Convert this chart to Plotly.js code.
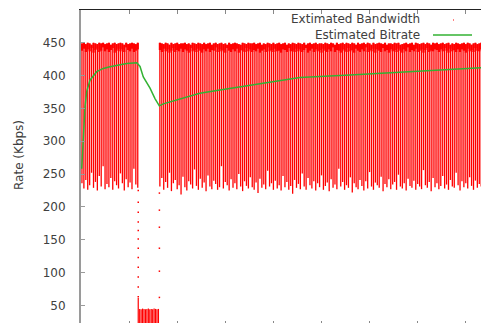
<!DOCTYPE html>
<html>
<head>
<meta charset="utf-8">
<script src="https://cdn.plot.ly/plotly-3.0.1.min.js"></script>
<style>
html,body{margin:0;padding:0;overflow:hidden;background:#fff;width:481px;height:323px;}
#chart{width:562px;height:340px;}
</style>
</head>
<body>
<div id="chart"></div>
<script>
// ---- Estimated Bandwidth (per sample interval: ceiling, dense floor, lowest estimate) ----
const bwSamplePeriod = 4;           // seconds between bandwidth columns
const bwStart1 = 2;                 // first interval (before the outage)
const bwHigh1 = [449,450,448,450,449,447,450,449,448,450,449,450,448,449,450,447,449,450,448,449,450,449,447,450,448,449,450,449,448,450];
const bwDense1 = [438,441,436,440,437,442,435,439,441,436,438,443,437,440,436,439,442,435,438,441,437,440,436,443,439,437,441,436,438,440];
const bwLow1 = [236,228,241,226,233,252,229,238,225,247,231,262,227,235,230,244,226,239,233,228,251,236,225,242,230,237,227,258,234,229];

const bwStart2 = 164;               // interval after the outage
const bwHigh2 = [
450,449,448,450,449,447,450,448,449,450,448,449,
449,450,448,449,447,450,449,448,450,449,448,450,
448,449,450,447,449,450,448,449,450,448,449,447,
450,448,449,450,449,448,447,450,449,448,450,449,
449,450,448,449,450,447,449,448,450,449,448,450,
448,449,450,448,449,450,447,449,448,450,449,448,
450,449,448,450,447,449,450,448,449,450,448,449,
449,448,450,449,448,450,449,447,450,448,449,450,
448,450,449,448,450,449,447,450,448,449,450,448,
450,449,447,450,448,449,450,449,448,450,447,449,
449,448,450,449,450,447,448,449,450,448,449,450,
447,450,449,448,449,450,448,450,449,447,450,449,
450,448,449,450,448,449,450,447,449,448,450,449,
448,449,450,448,450,449,447,449,450,448,449,450];
const bwDense2 = [
439,436,441,437,440,435,438,442,436,439,437,441,
436,440,438,435,442,437,439,436,441,438,435,440,
437,441,436,439,438,443,436,440,437,439,435,442,
438,436,440,437,441,435,439,438,436,442,437,440,
436,439,437,441,435,438,440,436,443,437,439,436,
441,437,438,435,440,439,436,442,437,438,436,441,
437,440,436,439,442,435,438,441,436,440,437,439,
435,441,438,436,440,437,443,436,439,438,435,440,
438,436,442,437,439,435,441,438,436,440,437,443,
436,439,437,441,435,440,438,436,442,437,439,435,
440,437,439,436,441,438,435,440,437,443,436,439,
437,441,436,438,440,435,439,442,436,438,437,440,
439,436,440,437,442,438,435,441,437,439,436,440,
436,440,438,435,441,437,439,436,442,438,437,440];
const bwLow2 = [
231,244,226,238,229,252,224,236,241,227,233,219,
246,230,225,239,234,228,257,232,226,243,229,237,
224,248,231,227,240,235,226,230,262,228,238,233,
225,242,229,236,227,250,231,224,239,232,228,245,
230,226,237,221,243,229,234,227,255,231,236,226,
240,228,233,225,247,230,238,226,232,220,241,229,
235,227,251,231,226,244,233,228,239,225,236,230,
248,226,232,237,224,242,229,234,227,258,231,238,
226,233,229,245,222,236,230,227,241,232,225,239,
228,253,231,226,237,233,229,246,224,235,230,242,
227,234,238,226,249,231,228,236,225,243,232,229,
240,226,235,231,227,256,233,229,238,224,244,230,
236,227,232,247,228,234,226,241,231,229,252,233,
225,239,230,236,228,245,232,226,240,229,235,231];

// outage block (low estimates)
const gapTime = [119,122,125,128,131,134,137,140,143,146,149,152,155,158,161];
const gapHigh = [61,44.5,44,45,44.5,44,44.5,45,44,44.5,44,45,44.5,44,44.5];
const gapLow  = [12,10,14,11,13,10,12,15,11,10,13,12,10,14,11];

// isolated estimates around the outage
const dotTime  = [119,119,119,119,119,119,119,119,119,119,119,119,163,163,163,163,163,163];
const dotValue = [225,207,192,177,164,151,137,123,108,93,78,63,221,195,169,137,102,62];

// ---- Estimated Bitrate ----
const brTime  = [1.5,4.8,8.3,11.9,18.7,32.6,46.4,60,81,95,116,122.7,129.5,143.5,153.8,162.8,171,199,247,289,372,455,559,663,767,832];
const brValue = [258,302,352,376,393,406,411,413.5,417,418.5,419.5,414,398,381,365,354,357,363,373,378,388,397,401,405,410,412];

const yTicks = [50,100,150,200,250,300,350,400,450];
const xTicks = [100,200,300,400,500,600,700,800,900];

function segs(times, hi, lo){
  const xs=[], ys=[];
  for(let i=0;i<times.length;i++){ xs.push(times[i],times[i],null); ys.push(hi[i],lo[i],null); }
  return {xs, ys};
}
function timesFor(start, n){ const t=[]; for(let i=0;i<n;i++) t.push(start+i*bwSamplePeriod); return t; }

const t1 = timesFor(bwStart1, bwHigh1.length);
const t2 = timesFor(bwStart2, bwHigh2.length);
const rangeSeg = segs(t1.concat(t2), bwHigh1.concat(bwHigh2), bwLow1.concat(bwLow2));
const denseSeg = segs(t1.concat(t2), bwHigh1.concat(bwHigh2), bwDense1.concat(bwDense2));
const gapSeg = segs(gapTime, gapHigh, gapLow);

const RED = '#ff0000';
const GREEN = '#33b233';
const traces = [
  {x: rangeSeg.xs, y: rangeSeg.ys, mode:'lines', line:{color:RED, width:1.3}, hoverinfo:'skip', connectgaps:false},
  {x: denseSeg.xs, y: denseSeg.ys, mode:'lines', line:{color:RED, width:2.2}, hoverinfo:'skip', connectgaps:false},
  {x: gapSeg.xs, y: gapSeg.ys, mode:'lines', line:{color:RED, width:1.2}, hoverinfo:'skip', connectgaps:false},
  {x: dotTime, y: dotValue, mode:'markers', marker:{color:RED, size:1.5, symbol:'square'}, hoverinfo:'skip'},
  {x: brTime, y: brValue, mode:'lines', line:{color:GREEN, width:1.5}, hoverinfo:'skip'}
];

const FONT = 'DejaVu Sans, sans-serif';
const TXT = '#404040';
const layout = {
  width: 562, height: 340,
  margin: {l:81, r:0, t:10, b:15, pad:0},
  paper_bgcolor:'#fff', plot_bgcolor:'#fff',
  showlegend:false,
  font:{family:FONT, size:12, color:TXT},
  xaxis:{range:[0,1000], showgrid:false, zeroline:false, showline:true, linecolor:'#222', linewidth:1,
         mirror:'ticks', ticks:'inside', ticklen:4, tickcolor:'#888', tickvals:xTicks, showticklabels:false},
  yaxis:{range:[20,500], showgrid:false, zeroline:false, showline:true, linecolor:'#9a9a9a', linewidth:2,
         ticks:'inside', ticklen:4, tickcolor:'#9a9a9a', tickvals:yTicks, ticktext:yTicks.map(String),
         tickfont:{family:FONT, size:12, color:TXT}, ticklabelstandoff:11},
  annotations:[
    {xref:'paper', yref:'paper', x:0, xshift:-62, y:0.5397, xanchor:'center', yanchor:'middle',
     text:'Rate (Kbps)', textangle:-90, showarrow:false, font:{family:FONT, size:12, color:TXT}},
    {xref:'paper', yref:'paper', x:0.7089, y:0.9714, xanchor:'right', yanchor:'middle',
     text:'Extimated Bandwidth', showarrow:false, font:{family:FONT, size:12, color:TXT}},
    {xref:'paper', yref:'paper', x:0.7089, y:0.9206, xanchor:'right', yanchor:'middle',
     text:'Estimated Bitrate', showarrow:false, font:{family:FONT, size:12, color:TXT}}
  ],
  shapes:[
    {type:'line', xref:'paper', yref:'paper', x0:0.7318, x1:0.8129, y0:0.9206, y1:0.9206, line:{color:GREEN, width:1.5}},
    {type:'rect', xref:'paper', yref:'paper', x0:0.7734, x1:0.7755, y0:0.9667, y1:0.9698, line:{width:0}, fillcolor:RED}
  ]
};

Plotly.newPlot('chart', traces, layout, {staticPlot:true, displayModeBar:false});
</script>
</body>
</html>
